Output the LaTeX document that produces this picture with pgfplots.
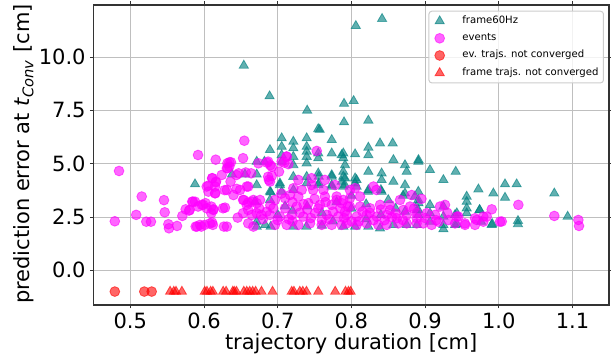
\documentclass[border=0pt]{standalone}
\usepackage{fontspec}
\setmainfont{DejaVu Sans}
\usepackage{pgfplots}
\usepackage{pgfplotstable}
\pgfplotsset{compat=1.18}
\definecolor{cteal}{RGB}{0,128,128}
\definecolor{cmag}{RGB}{255,0,255}
\definecolor{cred}{RGB}{255,0,0}

\pgfplotstableread{
x y
0.8416 11.80
0.806 11.47
0.654 9.61
0.689 8.17
0.740 7.50
0.790 7.82
0.803 7.95
0.790 6.95
0.823 7.03
0.755 6.63
0.757 6.60
0.7054 6.20
0.7212 6.04
0.7393 6.20
0.7733 6.12
0.7054 5.80
0.7212 5.73
0.7393 5.80
0.7393 5.57
0.6895 5.65
0.7054 5.41
0.7212 5.33
0.7393 5.33
0.7393 5.02
0.755 5.49
0.755 5.26
0.7733 5.49
0.7868 5.41
0.7054 5.10
0.7212 4.94
0.703 4.00
0.7054 3.69
0.6895 3.69
0.6895 3.30
0.7212 4.39
0.7393 4.39
0.7393 4.09
0.755 4.55
0.755 4.00
0.7733 4.47
0.7733 4.00
0.7868 4.16
0.8388 5.96
0.856 5.96
0.823 5.76
0.823 5.41
0.805 5.45
0.789 5.49
0.789 5.26
0.7913 4.94
0.789 4.63
0.7913 4.32
0.7913 4.00
0.857 5.18
0.8727 4.94
0.875 4.63
0.891 5.18
0.8908 5.10
0.823 4.63
0.841 4.55
0.841 4.24
0.857 4.16
0.8727 4.00
0.8727 3.61
0.805 4.32
0.805 4.08
0.823 3.77
0.841 3.69
0.886 3.46
0.891 3.15
0.889 2.83
0.8727 2.75
0.875 2.13
0.889 2.13
0.8388 1.97
0.857 2.13
0.805 2.05
0.823 2.05
0.789 2.05
0.9066 4.71
0.9415 4.63
0.9248 4.24
0.9723 3.80
0.9926 3.61
0.9564 3.46
0.9564 3.22
0.9564 2.91
0.9564 2.68
0.8908 3.69
0.8908 3.30
0.8908 2.83
0.8908 2.60
0.9066 3.07
0.9066 2.68
0.9066 2.28
0.9248 2.99
0.9248 2.52
0.9248 2.13
0.9248 1.93
0.9406 2.60
0.9406 2.13
0.943 2.68
0.943 2.16
0.974 2.83
0.9739 2.83
0.976 2.28
0.991 2.18
0.9904 2.13
1.0084 4.04
1.0242 4.04
1.0084 3.41
1.0753 3.61
1.0934 2.52
1.026 2.32
1.026 2.17
0.5878 4.04
0.6715 5.10
0.682 5.10
0.638 4.50
0.6556 4.50
0.6715 4.50
0.6715 4.00
0.669 3.22
0.6715 2.28
0.6715 2.05
0.683 2.13
0.6905 2.05
0.6905 3.66
0.703 4.08
0.7213 3.77
0.7557 4.08
0.7557 4.40
0.7733 3.93
0.7733 4.40
0.789 4.40
0.789 3.93
0.807 4.24
0.807 3.93
0.8226 3.69
0.840 3.77
0.7213 2.05
0.739 2.05
0.72 2.80
0.74 3.00
0.76 2.70
0.78 3.20
0.80 2.90
0.82 3.10
0.84 2.60
0.86 2.90
0.80 3.50
0.70 2.60
0.71 3.00
0.76 2.10
0.775 2.30
0.82 2.40
0.85 3.30
0.87 3.50
}\frametable

\pgfplotstableread{
x y
0.4847 4.66
0.5155 3.46
0.5457 3.29
0.5467 2.72
0.508 2.60
0.479 2.30
0.5217 2.28
0.528 2.28
0.5516 2.16
0.5525 1.97
0.5634 2.08
0.5706 2.55
0.5806 2.83
0.585 3.22
0.6547 6.08
0.5919 5.41
0.6159 5.19
0.653 5.26
0.6366 5.07
0.6343 4.86
0.631 4.79
0.624 4.47
0.644 4.47
0.660 3.93
0.611 4.32
0.6163 4.16
0.615 3.93
0.615 3.61
0.6037 3.93
0.606 3.69
0.631 3.77
0.640 3.53
0.649 3.77
0.653 3.30
0.658 3.07
0.665 3.22
0.6715 3.15
0.676 3.30
0.5878 3.22
0.592 2.99
0.599 3.07
0.6037 2.91
0.610 2.99
0.6126 2.83
0.610 2.68
0.6285 2.94
0.5946 2.13
0.601 2.13
0.608 2.20
0.612 2.13
0.631 2.05
0.653 2.68
0.660 2.83
0.665 2.60
0.6715 2.68
0.678 2.60
0.685 2.75
0.660 2.20
0.667 2.05
0.687 5.10
0.692 4.86
0.7054 5.10
0.7122 5.33
0.7144 4.98
0.687 4.39
0.6895 4.16
0.753 5.60
0.728 4.24
0.7212 3.85
0.7326 3.77
0.746 4.00
0.746 4.32
0.764 4.24
0.7778 4.00
0.762 3.77
0.780 3.46
0.764 3.46
0.748 3.77
0.728 3.46
0.7167 3.53
0.710 3.38
0.6963 3.30
0.694 2.91
0.710 2.91
0.7258 2.99
0.7415 3.15
0.7574 3.07
0.7733 3.07
0.7868 3.15
0.6895 2.60
0.703 2.52
0.719 2.60
0.7347 2.52
0.7506 2.68
0.7665 2.60
0.7822 2.52
0.6963 2.13
0.7122 2.13
0.728 2.13
0.7438 2.20
0.7597 2.13
0.7733 2.13
0.7868 2.13
0.7913 2.75
0.830 3.93
0.834 3.77
0.805 3.85
0.798 3.77
0.8818 3.53
0.866 3.30
0.852 3.07
0.8388 3.07
0.8117 3.46
0.798 3.38
0.789 3.30
0.798 2.99
0.8117 2.99
0.8253 2.91
0.8524 2.83
0.8705 2.83
0.8795 2.99
0.8886 2.68
0.7935 2.60
0.8072 2.52
0.8207 2.60
0.8343 2.52
0.8478 2.60
0.8614 2.44
0.875 2.60
0.8886 2.44
0.7935 2.20
0.8072 2.13
0.8207 2.20
0.8365 2.13
0.8478 2.13
0.8636 2.20
0.875 2.20
0.895 3.35
0.9202 2.99
0.927 3.07
0.9904 2.86
1.0017 2.28
0.9022 2.68
0.9135 2.60
0.8976 2.20
0.9089 2.13
0.918 2.28
0.9316 2.36
0.9451 2.52
0.9542 2.13
0.9677 2.44
0.979 2.28
0.9836 2.52
0.9677 2.13
0.9406 2.20
0.8885 2.20
0.954 2.20
0.970 2.36
0.979 2.52
0.943 2.52
1.0265 3.07
1.004 2.29
1.0753 2.55
1.1079 2.36
1.1088 2.08
0.6855 5.05
0.690 4.93
0.7018 4.63
0.712 5.34
0.709 5.05
0.688 4.24
0.692 4.43
0.6738 5.02
0.664 4.55
0.6566 4.59
0.647 4.55
0.6457 2.47
0.628 3.76
0.6258 2.91
0.627 2.05
0.597 3.07
0.602 3.15
0.6127 2.86
0.611 2.24
0.6058 3.97
0.6113 4.32
0.6158 4.12
0.6154 3.62
0.5751 2.86
0.5796 2.80
0.584 3.22
0.5887 2.05
0.5905 2.05
0.5964 2.05
0.632 4.79
0.6317 5.02
0.6344 5.07
0.636 4.16
0.6443 3.82
0.654 3.30
0.660 3.18
0.667 3.30
0.658 3.93
0.700 2.35
0.715 2.40
0.730 2.70
0.745 2.45
0.760 2.35
0.775 2.75
0.790 2.45
0.800 2.30
0.815 2.75
0.830 2.35
0.845 2.35
0.860 2.65
0.720 2.30
0.740 2.85
0.755 2.90
0.770 2.40
0.785 2.90
0.680 2.40
0.675 2.90
0.690 3.05
0.705 3.60
0.720 3.20
0.735 3.10
0.750 3.35
0.765 3.20
0.780 3.30
0.795 3.00
0.810 2.30
0.825 2.70
0.840 2.85
0.855 2.50
0.870 2.35
0.885 2.90
0.900 2.45
0.915 2.35
0.930 2.70
}\eventtable

\pgfplotstableread{
x y
0.479 -1
0.519 -1
0.529 -1
}\evfailtable

\pgfplotstableread{
x y
0.554 -1
0.559 -1
0.562 -1
0.570 -1
0.601 -1
0.604 -1
0.609 -1
0.612 -1
0.626 -1
0.630 -1
0.639 -1
0.641 -1
0.644 -1
0.654 -1
0.658 -1
0.662 -1
0.666 -1
0.670 -1
0.678 -1
0.693 -1
0.719 -1
0.722 -1
0.730 -1
0.734 -1
0.739 -1
0.755 -1
0.778 -1
0.792 -1
0.796 -1
0.799 -1
}\framefailtable

\begin{document}
\begin{tikzpicture}
\begin{axis}[
  scale only axis,
  width=257.85pt, height=150pt,
  xmin=0.4498, xmax=1.1495, ymin=-1.63, ymax=12.45,
  xtick={0.5,0.6,0.7,0.8,0.9,1.0,1.1},
  ytick={0,2.5,5,7.5,10},
  xticklabel style={/pgf/number format/.cd, fixed, fixed zerofill, precision=1, /tikz/.cd, inner sep=2.25pt},
  yticklabel style={/pgf/number format/.cd, fixed, fixed zerofill, precision=1, /tikz/.cd, inner sep=1.9pt},
  /pgf/number format/assume math mode=true,
  ticklabel style={font=\fontsize{10.5}{12}\selectfont},
  label style={font=\fontsize{10.5}{12}\selectfont},
  tick align=outside,
  major tick length=1.75pt,
  tick style={black!80, line width=0.5pt},
  axis line style={black!80, line width=0.6pt},
  grid=major,
  major grid style={gray!50, line width=0.5pt},
  xlabel={trajectory duration [cm]},
  ylabel={prediction error at \textit{t}\textsubscript{\textit{Conv}} [cm]},
  xlabel style={at={(axis description cs:0.5,-0.15)}, anchor=base},
  ylabel style={at={(axis description cs:-0.134,0.503)}, anchor=center, rotate=0},
  legend style={at={(0.9903,0.981)}, anchor=north east, draw=black!20, line width=0.5pt,
    rounded corners=1.5pt, fill=white, fill opacity=0.8, text opacity=1,
    font=\fontsize{5.05}{6}\selectfont, inner xsep=2pt, inner ysep=1.8pt, row sep=2.4pt,
    nodes={inner sep=0.5pt},
    /tikz/every odd column/.append style={column sep=4pt}},
  legend cell align=left,
  legend image code/.code={\node[inner sep=0pt, minimum width=10.25pt, minimum height=5.2pt, anchor=west] at (0pt,0pt) {}; \draw[#1] plot coordinates {(3.65pt,0pt)};},
]
\addplot[only marks, mark=triangle*, mark size=2.65pt,
  mark options={fill=cteal, draw=cteal, opacity=0.62, line width=0.4pt}]
  table[x=x,y=y]{\frametable};
\addlegendentry{frame60Hz}
\addplot[only marks, mark=*, mark size=2.45pt,
  mark options={fill=cmag, draw=cmag, opacity=0.6, line width=0.4pt}]
  table[x=x,y=y]{\eventtable};
\addlegendentry{events}
\addplot[only marks, mark=*, mark size=2.45pt,
  mark options={fill=cred, draw=cred, opacity=0.6, line width=0.4pt}]
  table[x=x,y=y]{\evfailtable};
\addlegendentry{ev. trajs. not converged}
\addplot[only marks, mark=triangle*, mark size=2.65pt,
  mark options={fill=cred, draw=cred, opacity=0.6, line width=0.4pt}]
  table[x=x,y=y]{\framefailtable};
\addlegendentry{frame trajs. not converged}
\end{axis}
\pgfresetboundingbox
\path[use as bounding box] (-46.65pt,-26.5pt) rectangle (258.85pt,152.5pt);
\end{tikzpicture}
\end{document}
